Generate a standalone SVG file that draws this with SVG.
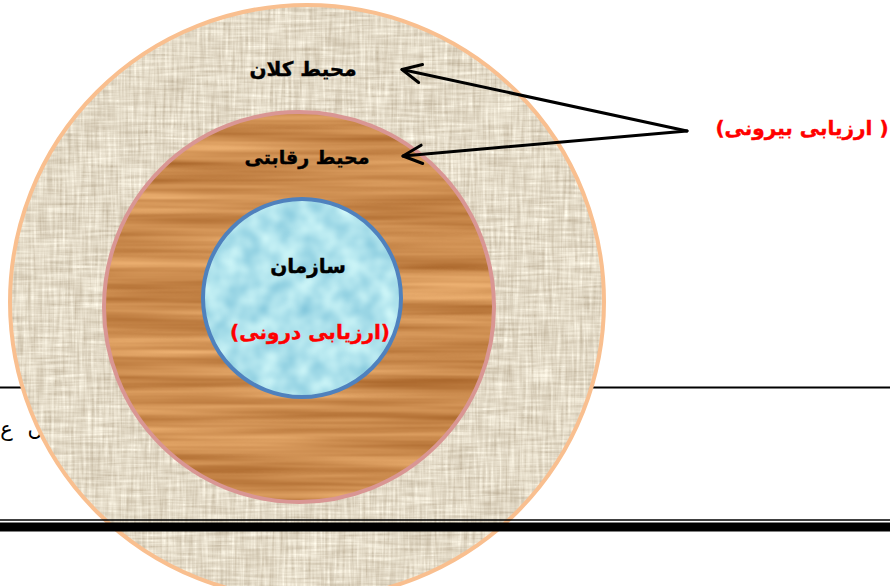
<svg xmlns="http://www.w3.org/2000/svg" width="890" height="586" viewBox="0 0 890 586">
<style>
.lbl{font-family:"DejaVu Sans","Liberation Sans",sans-serif;font-weight:bold;font-size:20px;text-anchor:middle}
.blk{fill:#000;stroke:#000;stroke-width:0.4}
.red{fill:#ff0000;stroke:#ff0000;stroke-width:0.4}
.arw{stroke:#000;stroke-width:3;fill:none;stroke-linecap:round;marker-end:url(#chev)}
</style>
<defs>
<marker id="chev" markerUnits="userSpaceOnUse" markerWidth="24" markerHeight="24" refX="20" refY="10" orient="auto" overflow="visible">
<path d="M1,0.8 L20,10 L1,19.2" fill="none" stroke="#000" stroke-width="3" stroke-linecap="round" stroke-linejoin="round"/>
</marker>
<filter id="linen" x="0" y="0" width="1" height="1" color-interpolation-filters="sRGB">
<feTurbulence type="fractalNoise" baseFrequency="0.35 0.025" numOctaves="2" seed="4" result="v"/>
<feTurbulence type="fractalNoise" baseFrequency="0.025 0.35" numOctaves="2" seed="9" result="h"/>
<feComposite in="v" in2="h" operator="arithmetic" k2="0.5" k3="0.5" result="m"/>
<feColorMatrix in="m" type="matrix" values="0.42 0 0 0 0.68  0.47 0 0 0 0.62  0.52 0 0 0 0.52  0 0 0 0 1" result="c"/>
<feComposite in="c" in2="SourceGraphic" operator="in"/>
</filter>
<filter id="wood" x="0" y="0" width="1" height="1" color-interpolation-filters="sRGB">
<feTurbulence type="fractalNoise" baseFrequency="0.003 0.09" numOctaves="3" seed="3" result="n"/>
<feColorMatrix in="n" type="matrix" values="0.36 0 0 0 0.62  0.4 0 0 0 0.35  0.38 0 0 0 0.12  0 0 0 0 1" result="c"/>
<feComposite in="c" in2="SourceGraphic" operator="in"/>
</filter>
<filter id="water" x="0" y="0" width="1" height="1" color-interpolation-filters="sRGB">
<feTurbulence type="fractalNoise" baseFrequency="0.05" numOctaves="2" seed="7" result="n"/>
<feColorMatrix in="n" type="matrix" values="0.4 0 0 0 0.48  0.25 0 0 0 0.76  0.15 0 0 0 0.85  0 0 0 0 1" result="c"/>
<feComposite in="c" in2="SourceGraphic" operator="in"/>
</filter>
</defs>
<rect width="890" height="586" fill="#fff"/>
<line x1="0" y1="387.5" x2="890" y2="387.5" stroke="#000" stroke-width="2"/>
<text x="43" y="436" direction="rtl" font-family="DejaVu Sans, sans-serif" font-size="21" word-spacing="8" text-anchor="start" fill="#000">ں ع</text>
<g id="outer">
<circle cx="307" cy="302" r="297" fill="#e3dac6" filter="url(#linen)"/>
<circle cx="307" cy="302" r="297" fill="none" stroke="#f9bf8f" stroke-width="4"/>
<text class="lbl blk" x="303" y="76" direction="rtl">محیط کلان</text>
</g>
<g id="middle">
<circle cx="299" cy="307" r="195" fill="#c8854a" filter="url(#wood)"/>
<circle cx="299" cy="307" r="195" fill="none" stroke="#d99694" stroke-width="4"/>
<text class="lbl blk" x="307" y="164" direction="rtl" style="font-size:19px">محیط رقابتی</text>
</g>
<g id="inner">
<circle cx="302" cy="298" r="99" fill="#aee3ee" filter="url(#water)"/>
<circle cx="302" cy="298" r="99" fill="none" stroke="#4f81bd" stroke-width="4"/>
<text class="lbl blk" x="308" y="273" direction="rtl">سازمان</text>
<text class="lbl red" x="310" y="339" direction="rtl">(ارزیابی درونی)</text>
</g>
<g id="external">
<text class="lbl red" x="802" y="135" direction="rtl">( ارزیابی بیرونی)</text>
</g>
<g id="connectors">
<line class="arw" x1="687" y1="131" x2="402" y2="69.5"/>
<line class="arw" x1="687" y1="131" x2="403" y2="156"/>
</g>
<line x1="0" y1="520" x2="890" y2="520" stroke="#000" stroke-width="1.5"/>
<line x1="0" y1="527" x2="890" y2="527" stroke="#000" stroke-width="9"/>
</svg>
